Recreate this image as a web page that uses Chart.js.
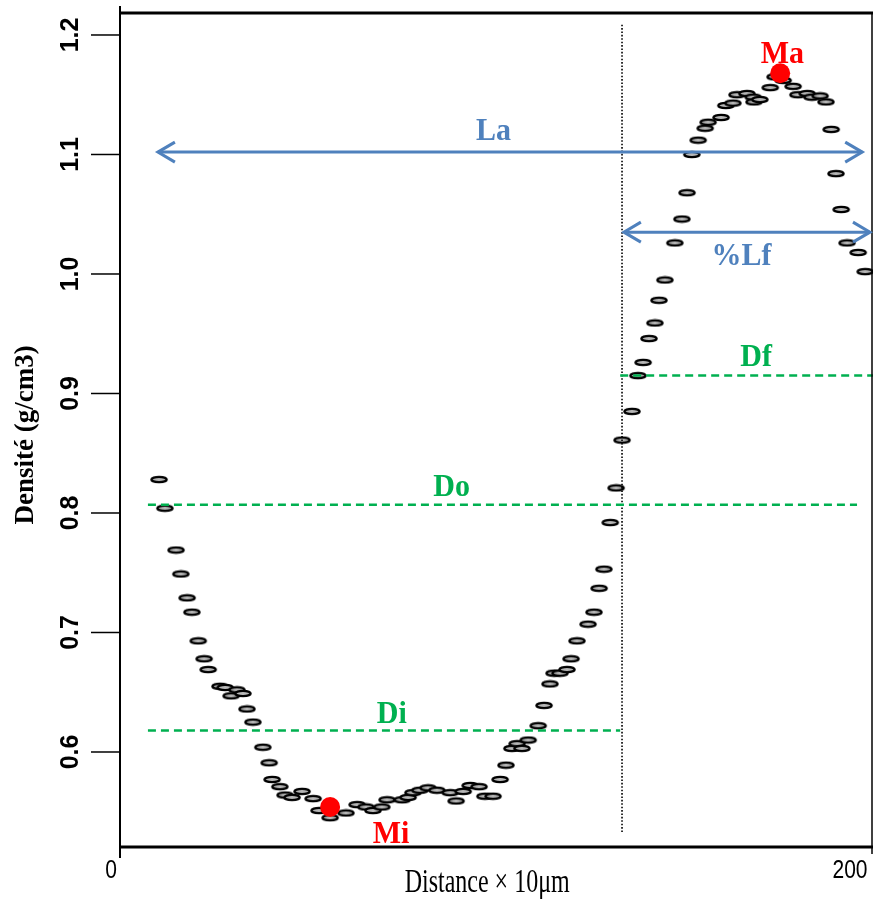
<!DOCTYPE html>
<html>
<head>
<meta charset="utf-8">
<script src="https://cdn.jsdelivr.net/npm/chart.js@4/dist/chart.umd.min.js"></script>
<style>
html,body{margin:0;padding:0;background:#fff;}
#wrap{width:873px;height:899px;}
</style>
</head>
<body>
<div id="wrap"><canvas id="c" width="873" height="899"></canvas></div>
<script>
// ---------------- data ----------------
const xTickValues = [0, 200];
const xTickLabels = ['0', '200'];
const yTickValues = [0.6, 0.7, 0.8, 0.9, 1.0, 1.1, 1.2];
const yTickLabels = ['0.6', '0.7', '0.8', '0.9', '1.0', '1.1', '1.2'];
const xTitle = 'Distance \u00d7 10\u03bcm';
const yTitle = 'Densit\u00e9 (g/cm3)';

const distance = [13.0,14.6,17.6,18.9,20.6,21.9,23.6,25.2,26.3,29.5,30.9,32.5,34.1,35.7,36.8,38.4,41.1,42.8,43.6,45.7,
  47.1,49.0,51.7,54.7,56.3,59.3,63.6,66.6,69.0,70.9,73.3,74.7,78.8,80.4,81.7,83.6,85.8,88.2,91.8,93.4,
  95.3,97.2,99.6,101.2,103.4,105.3,106.9,108.5,109.9,111.2,112.9,115.6,117.2,118.8,119.9,121.5,123.4,124.5,126.1,129.1,
  130.7,132.1,133.4,135.1,136.7,138.3,141.0,142.6,144.0,145.6,147.2,148.3,149.9,152.6,154.5,155.9,157.2,158.9,160.8,161.6,
  165.1,166.4,168.3,169.4,172.1,173.8,174.0,175.6,178.4,179.7,181.9,184.6,185.9,188.4,189.7,191.9,193.5,194.9,196.2,197.6,
  199.2,202.2,204.1];
const density = [0.828,0.804,0.769,0.749,0.729,0.717,0.693,0.678,0.669,0.655,0.654,0.647,0.652,0.649,0.636,0.625,0.604,0.591,0.577,0.571,
  0.564,0.562,0.567,0.561,0.551,0.545,0.549,0.556,0.554,0.551,0.554,0.560,0.560,0.562,0.566,0.568,0.570,0.568,0.566,0.559,
  0.567,0.572,0.571,0.563,0.563,0.577,0.589,0.603,0.607,0.603,0.610,0.622,0.639,0.657,0.666,0.666,0.669,0.678,0.693,0.707,
  0.717,0.737,0.753,0.792,0.821,0.861,0.885,0.915,0.926,0.946,0.959,0.978,0.995,1.026,1.046,1.068,1.100,1.112,1.122,1.127,
  1.131,1.141,1.143,1.150,1.151,1.148,1.144,1.146,1.156,1.165,1.162,1.157,1.150,1.151,1.148,1.149,1.144,1.121,1.084,1.054,
  1.026,1.018,1.002];

// extrema (Ma, Mi)
const extremaNames = ['Ma', 'Mi'];
const extremaX = [181.1, 59.3];
const extremaY = [1.168, 0.554];

// density levels (dashed)
const levelNames = ['Do', 'Di', 'Df'];
const levelValues = [0.807, 0.618, 0.915];
const levelStart = [10.0, 10.0, 137.8];
const levelEnd = [201.9, 137.8, 206.2];

// boundary (dotted vertical)
const boundaryX = 138.3;
const boundaryYRange = [0.533, 1.209];

// widths (double arrows)
const arrowNames = ['La', '%Lf'];
const arrowY = [1.102, 1.035];
const arrowStart = [12.7, 138.8];
const arrowEnd = [203.3, 205.4];

// annotation text anchors (centre x, baseline y)
const annoText = ['La', '%Lf', 'Do', 'Di', 'Df', 'Ma', 'Mi'];
const annoX = [103.5, 170.6, 92.2, 76.0, 174.6, 181.7, 75.8];
const annoY = [1.1121, 1.0075, 0.8142, 0.6243, 0.9230, 1.1766, 0.5238];

// ---------------- styles ----------------
const BLUE = '#4F81BD', GREEN = '#00B050', RED = '#FF0000';
const annoColor = { 'La': BLUE, '%Lf': BLUE, 'Do': GREEN, 'Di': GREEN, 'Df': GREEN, 'Ma': RED, 'Mi': RED };

const oval = (() => {
  const c = document.createElement('canvas');
  c.width = 20; c.height = 9;
  const g = c.getContext('2d');
  g.beginPath();
  g.ellipse(10, 4.5, 7.6, 2.6, 0, 0, Math.PI * 2);
  g.fillStyle = '#b8b8b8';
  g.fill();
  g.lineWidth = 2.4;
  g.strokeStyle = '#000';
  g.stroke();
  return c;
})();

const datasets = [];
datasets.push({
  label: 'density',
  data: distance.map((x, i) => ({ x: x, y: density[i] })),
  pointStyle: oval, pointRadius: 8, showLine: false, order: 10, clip: false
});
levelNames.forEach((n, i) => {
  datasets.push({
    label: n,
    data: [{ x: levelStart[i], y: levelValues[i] }, { x: levelEnd[i], y: levelValues[i] }],
    showLine: true, borderColor: GREEN, borderWidth: 2.5, borderDash: [8, 5],
    pointRadius: 0, order: 5, clip: false
  });
});
datasets.push({
  label: 'boundary',
  data: [{ x: boundaryX, y: boundaryYRange[0] }, { x: boundaryX, y: boundaryYRange[1] }],
  showLine: true, borderColor: '#000', borderWidth: 1.6, borderDash: [1.6, 1.8],
  pointRadius: 0, order: 6, clip: false
});
arrowNames.forEach((n, i) => {
  datasets.push({
    label: n,
    data: [{ x: arrowStart[i], y: arrowY[i] }, { x: arrowEnd[i], y: arrowY[i] }],
    showLine: true, borderColor: BLUE, borderWidth: 3,
    pointRadius: 0, order: 4, clip: false
  });
});
datasets.push({
  label: 'extrema',
  data: extremaX.map((x, i) => ({ x: x, y: extremaY[i] })),
  pointStyle: 'circle', pointRadius: 10, backgroundColor: RED, borderWidth: 0,
  showLine: false, order: 1, clip: false
});

function drawText(ctx, s, x, y, font, color, align, baseline, rotated, stretch) {
  ctx.save();
  ctx.translate(x, y);
  if (rotated) { ctx.rotate(-Math.PI / 2); ctx.scale(stretch, 1); }
  else { ctx.scale(1, stretch); }
  ctx.font = font;
  ctx.fillStyle = color;
  ctx.textAlign = align;
  ctx.textBaseline = baseline;
  ctx.fillText(s, 0, 0);
  ctx.restore();
}

const deco = {
  id: 'deco',
  beforeDraw(chart) {
    const ctx = chart.ctx;
    ctx.save();
    ctx.fillStyle = '#fff';
    ctx.fillRect(0, 0, chart.width, chart.height);
    ctx.restore();
  },
  afterDraw(chart) {
    const ctx = chart.ctx;
    const a = chart.chartArea;
    const xs = chart.scales.x, ys = chart.scales.y;
    ctx.save();
    ctx.strokeStyle = '#000';
    ctx.lineCap = 'butt';
    // left axis
    ctx.lineWidth = 2;
    ctx.beginPath(); ctx.moveTo(a.left, 6); ctx.lineTo(a.left, a.bottom + 11); ctx.stroke();
    // right border
    ctx.lineWidth = 1.5;
    ctx.beginPath(); ctx.moveTo(a.right, a.top); ctx.lineTo(a.right, a.bottom + 7); ctx.stroke();
    // top and bottom thick lines
    ctx.lineWidth = 3;
    ctx.beginPath(); ctx.moveTo(a.left, a.top); ctx.lineTo(chart.width, a.top); ctx.stroke();
    ctx.beginPath(); ctx.moveTo(a.left, a.bottom); ctx.lineTo(chart.width, a.bottom); ctx.stroke();
    // y ticks
    ctx.lineWidth = 1.5;
    yTickValues.forEach((v, i) => {
      const py = ys.getPixelForValue(v);
      ctx.beginPath(); ctx.moveTo(a.left - 29, py); ctx.lineTo(a.left, py); ctx.stroke();
      drawText(ctx, yTickLabels[i], a.left - 42, py, 'bold 25px "Liberation Sans", Arial, sans-serif', '#000', 'center', 'alphabetic', true, 1);
    });
    // x tick labels
    xTickValues.forEach((v, i) => {
      const px = xs.getPixelForValue(v);
      drawText(ctx, xTickLabels[i], px, 878, '21px "Liberation Sans", Arial, sans-serif', '#000', 'center', 'alphabetic', false, 1.25);
    });
    // titles
    drawText(ctx, xTitle, xs.getPixelForValue(101.8), 892, '24px "Liberation Serif", "Times New Roman", serif', '#000', 'center', 'alphabetic', false, 1.4);
    drawText(ctx, yTitle, 33, ys.getPixelForValue(0.8653), 'bold 27px "Liberation Serif", "Times New Roman", serif', '#000', 'center', 'alphabetic', true, 1);
    // arrow heads
    ctx.strokeStyle = BLUE;
    ctx.lineWidth = 3;
    arrowNames.forEach((n, i) => {
      const py = ys.getPixelForValue(arrowY[i]);
      const l = xs.getPixelForValue(arrowStart[i]);
      const r = xs.getPixelForValue(arrowEnd[i]);
      ctx.beginPath();
      ctx.moveTo(l + 17, py - 10); ctx.lineTo(l, py); ctx.lineTo(l + 17, py + 10);
      ctx.moveTo(r - 17, py - 10); ctx.lineTo(r, py); ctx.lineTo(r - 17, py + 10);
      ctx.stroke();
    });
    // annotation texts
    annoText.forEach((t, i) => {
      drawText(ctx, t, xs.getPixelForValue(annoX[i]), ys.getPixelForValue(annoY[i]),
        'bold 30px "Liberation Serif", "Times New Roman", serif', annoColor[t], 'center', 'alphabetic', false, 1.05);
    });
    ctx.restore();
  }
};

new Chart(document.getElementById('c'), {
  type: 'scatter',
  data: { datasets: datasets },
  options: {
    responsive: false,
    animation: false,
    devicePixelRatio: 1,
    layout: { autoPadding: false, padding: { left: 120, right: 1, top: 13, bottom: 52 } },
    plugins: { legend: { display: false }, tooltip: { enabled: false } },
    scales: {
      x: { type: 'linear', min: 2.44, max: 205.95, display: false },
      y: { type: 'linear', min: 0.5205, max: 1.2184, display: false }
    }
  },
  plugins: [deco]
});
</script>
</body>
</html>
